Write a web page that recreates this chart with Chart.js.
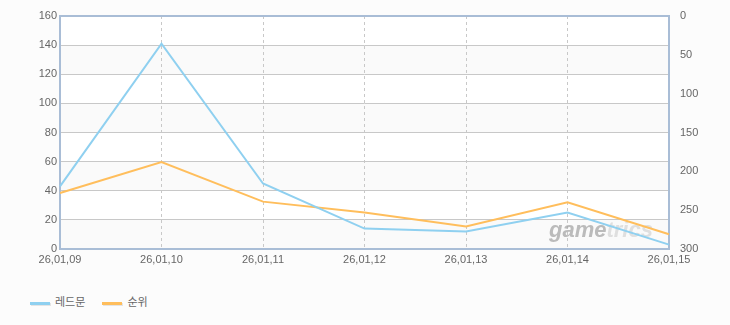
<!DOCTYPE html>
<html>
<head>
<meta charset="utf-8">
<script src="https://cdn.jsdelivr.net/npm/chart.js@4"></script>
<style>
    body { margin: 0; background: #fcfcfc; font-family: "Liberation Sans", "Noto Sans CJK KR", sans-serif; }
    #wrap { position: relative; width: 730px; height: 325px; }
    #box { position: absolute; left: 0; top: 0; width: 730px; height: 270px; }
    #legend { position: absolute; left: 30px; top: 293px; font-size: 11px; color: #666; font-family: "Noto Sans CJK KR", sans-serif; }
    #legend span.item { display: inline-block; margin-right: 17px; }
    #legend i { display: inline-block; width: 20px; height: 3px; vertical-align: middle; margin-right: 5px; box-shadow: 1px 1px 0 #e4e4e4; }
</style>
</head>
<body>
<div id="wrap">
    <div id="box"><canvas id="chart"></canvas></div>
    <div id="legend"></div>
</div>
<script>
// 데이터
const dates = ['26,01,09', '26,01,10', '26,01,11', '26,01,12', '26,01,13', '26,01,14', '26,01,15'];
const redmoon = [43, 141, 45, 14, 12, 25, 3];
const rank = [228, 188, 239, 253, 271, 240, 281];
const leftTicks = [0, 20, 40, 60, 80, 100, 120, 140, 160];
const rightTicks = [0, 50, 100, 150, 200, 250, 300];

const seriesNames = ['레드문', '순위'];
const seriesColors = ['#8fd0f0', '#ffbe5c'];

// 배경 줄무늬 + 테두리 + 워터마크
const framePlugin = {
    id: 'frame',
    beforeDraw(chart) {
        const { ctx, chartArea: a, scales } = chart;
        const y = scales.y;
        ctx.save();
        ctx.fillStyle = '#ffffff';
        ctx.fillRect(a.left, a.top, a.right - a.left, a.bottom - a.top);
        ctx.fillStyle = '#fafafa';
        for (let i = 0; i < leftTicks.length - 1; i++) {
            const hi = leftTicks[leftTicks.length - 1 - i];
            const lo = leftTicks[leftTicks.length - 2 - i];
            if (i % 2 === 1) {
                const y1 = y.getPixelForValue(hi);
                const y2 = y.getPixelForValue(lo);
                ctx.fillRect(a.left, y1, a.right - a.left, y2 - y1);
            }
        }
        ctx.restore();
    },
    beforeDatasetsDraw(chart) {
        const { ctx, chartArea: a } = chart;
        ctx.save();
        // 워터마크
        ctx.font = 'italic bold 22px "Liberation Sans", sans-serif';
        ctx.textBaseline = 'alphabetic';
        ctx.fillStyle = 'rgba(160,160,160,0.7)';
        ctx.fillText('game', 549, 237);
        const w = ctx.measureText('game').width;
        ctx.fillStyle = 'rgba(200,200,200,0.55)';
        ctx.fillText('trics', 549 + w, 237);
        // 테두리
        ctx.strokeStyle = '#a9bdd6';
        ctx.lineWidth = 2;
        ctx.strokeRect(a.left, a.top, a.right - a.left, a.bottom - a.top);
        ctx.restore();
    }
};

const tickFont = { family: '"Liberation Sans", sans-serif', size: 11 };

new Chart(document.getElementById('chart'), {
    type: 'line',
    data: {
        labels: dates,
        datasets: [{
            label: seriesNames[0],
            data: redmoon,
            borderColor: seriesColors[0],
            backgroundColor: seriesColors[0],
            borderWidth: 2,
            pointRadius: 0,
            tension: 0,
            yAxisID: 'y'
        }, {
            label: seriesNames[1],
            data: rank,
            borderColor: seriesColors[1],
            backgroundColor: seriesColors[1],
            borderWidth: 2,
            pointRadius: 0,
            tension: 0,
            yAxisID: 'y1'
        }]
    },
    options: {
        responsive: true,
        maintainAspectRatio: false,
        animation: false,
        layout: { padding: { top: 16, left: 0, right: 0, bottom: 0 } },
        plugins: {
            legend: { display: false },
            tooltip: { enabled: false }
        },
        scales: {
            x: {
                offset: false,
                grid: { color: '#c8c8c8', tickLength: 0, drawTicks: false },
                border: { display: false, dash: [3, 3] },
                ticks: { color: '#666', font: tickFont, padding: 4, maxRotation: 0, autoSkip: false },
                afterFit(s) { s.height = 21; }
            },
            y: {
                position: 'left',
                min: 0,
                max: 160,
                afterBuildTicks(s) { s.ticks = leftTicks.map(v => ({ value: v })); },
                grid: { color: '#c8c8c8', drawTicks: false },
                border: { display: false },
                ticks: { color: '#666', font: tickFont, padding: 3 },
                afterFit(s) { s.width = 60; }
            },
            y1: {
                position: 'right',
                reverse: true,
                min: 0,
                max: 300,
                afterBuildTicks(s) { s.ticks = rightTicks.map(v => ({ value: v })); },
                grid: { display: false },
                border: { display: false },
                ticks: { color: '#666', font: tickFont, padding: 3 },
                afterFit(s) { s.width = 61; }
            }
        }
    },
    plugins: [framePlugin]
});

// 범례
document.getElementById('legend').innerHTML = seriesNames.map((n, i) =>
    `<span class="item"><i style="background:${seriesColors[i]}"></i>${n}</span>`
).join('');
</script>
</body>
</html>
